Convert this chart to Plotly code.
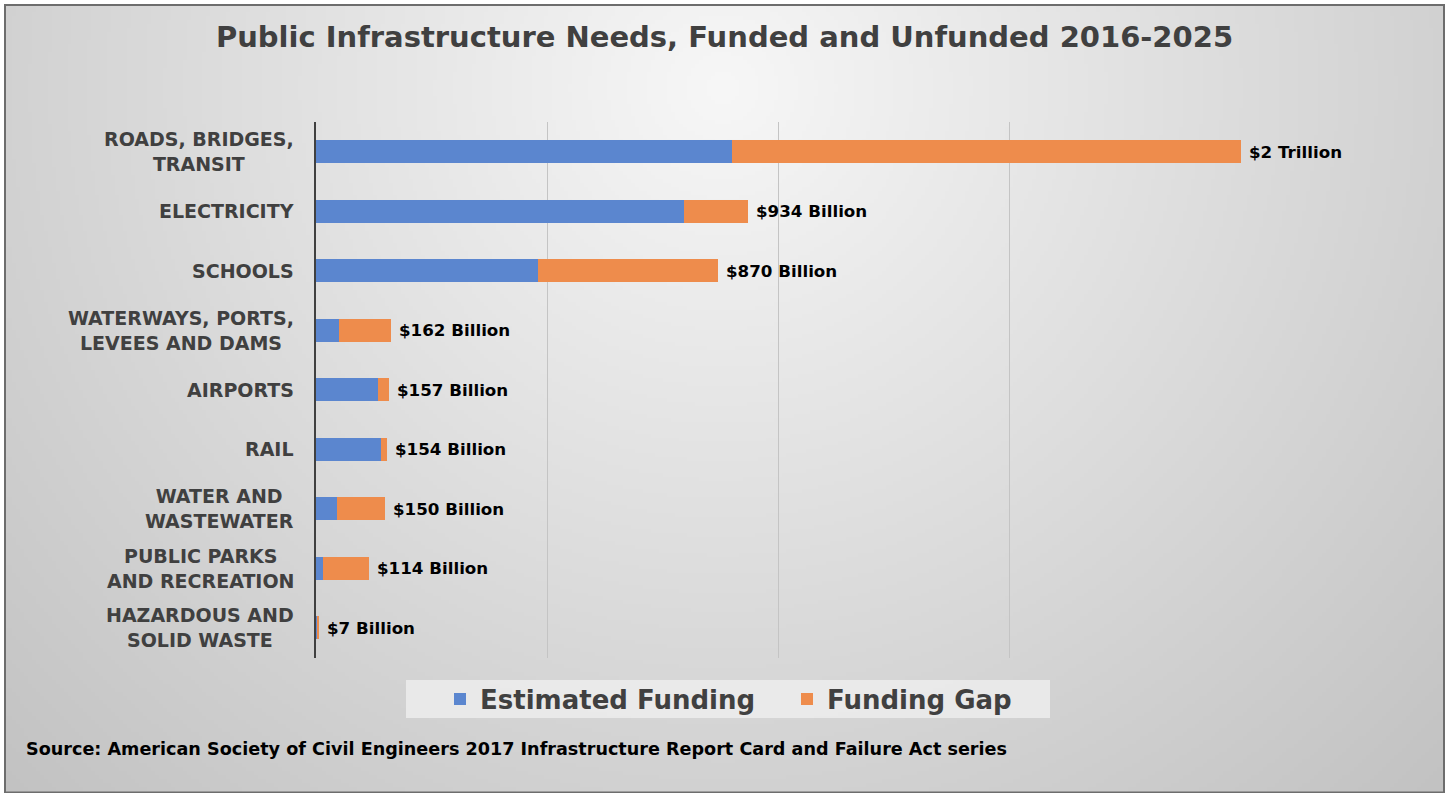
import base64
import struct
import zlib

import numpy as np
import plotly.graph_objects as go

# ---- data (billions of US dollars, 2016-2025) ----
categories = [
    "ROADS, BRIDGES,<br>TRANSIT",
    "ELECTRICITY",
    "SCHOOLS",
    "WATERWAYS, PORTS,<br>LEVEES AND DAMS",
    "AIRPORTS",
    "RAIL",
    "WATER AND<br>WASTEWATER",
    "PUBLIC PARKS<br>AND RECREATION",
    "HAZARDOUS AND<br>SOLID WASTE",
]
total_needs = [2000, 934, 870, 162, 157, 154, 150, 114, 7]
estimated_funding = [900, 795, 480, 50, 133, 140, 45, 16, 4]
funding_gap = [t - f for t, f in zip(total_needs, estimated_funding)]
total_labels = [
    "$2 Trillion", "$934 Billion", "$870 Billion", "$162 Billion",
    "$157 Billion", "$154 Billion", "$150 Billion", "$114 Billion", "$7 Billion",
]
x_ticks = [0, 500, 1000, 1500, 2000]

W, H = 1449, 793
BLUE = "#5B86CF"
ORANGE = "#EE8C4C"
DARK = "#404040"
FONT = "DejaVu Sans"


def grey_gradient_png(w, h):
    """Soft radial grey backdrop, light near the top centre."""
    ys, xs = np.mgrid[0:h, 0:w]
    fx = xs * (W / w)
    fy = ys * (H / h)
    r = np.sqrt(((fx - 720) / 720) ** 2 + ((fy - 80) / 700) ** 2)
    v = np.clip(247 - 37 * r, 190, 247).astype(np.uint8)
    raw = b"".join(b"\x00" + v[i].tobytes() for i in range(h))

    def chunk(tag, data):
        c = tag + data
        return struct.pack(">I", len(data)) + c + struct.pack(">I", zlib.crc32(c) & 0xFFFFFFFF)

    png = b"\x89PNG\r\n\x1a\n"
    png += chunk(b"IHDR", struct.pack(">IIBBBBB", w, h, 8, 0, 0, 0, 0))
    png += chunk(b"IDAT", zlib.compress(raw, 9))
    png += chunk(b"IEND", b"")
    return "data:image/png;base64," + base64.b64encode(png).decode()


fig = go.Figure()
fig.add_trace(go.Bar(
    y=categories, x=estimated_funding, orientation="h",
    name="Estimated Funding", marker=dict(color=BLUE, line=dict(width=0)),
    hoverinfo="x+name",
))
fig.add_trace(go.Bar(
    y=categories, x=funding_gap, orientation="h",
    name="Funding Gap", marker=dict(color=ORANGE, line=dict(width=0)),
    hoverinfo="x+name",
))

annotations = []
# category labels, centred lines, right edge next to the axis
for cat in categories:
    annotations.append(dict(
        x=0, y=cat, xref="x", yref="y", text=cat, showarrow=False,
        xanchor="right", yanchor="middle", align="center", xshift=-20,
        font=dict(family=FONT, size=19, color=DARK, weight="bold"),
    ))
# total labels at the end of each stacked bar
for cat, tot, lab in zip(categories, total_needs, total_labels):
    annotations.append(dict(
        x=tot, y=cat, xref="x", yref="y", text=lab, showarrow=False,
        xanchor="left", yanchor="middle", xshift=6,
        font=dict(family=FONT, size=16.7, color="#000000", weight="bold"),
    ))
# source line
annotations.append(dict(
    x=24 / W, y=1 - 749 / H, xref="paper", yref="paper", showarrow=False,
    xanchor="left", yanchor="middle",
    text="Source: American Society of Civil Engineers 2017 Infrastructure Report Card and Failure Act series",
    font=dict(family=FONT, size=17.6, color="#000000", weight="bold"),
))

shapes = [
    # legend panel
    dict(type="rect", xref="paper", yref="paper",
         x0=406 / W, x1=1050 / W, y0=1 - 718 / H, y1=1 - 680 / H,
         fillcolor="rgba(240,240,240,0.75)", line=dict(width=0), layer="below"),
    # outer frame
    dict(type="rect", xref="paper", yref="paper",
         x0=5 / W, x1=1444 / W, y0=0.5 / H, y1=1 - 5 / H,
         line=dict(color="#6d6d6d", width=2), fillcolor="rgba(0,0,0,0)"),
]

fig.update_layout(
    width=W, height=H,
    margin=dict(l=0, r=0, t=0, b=0),
    barmode="stack", bargap=0.61,
    paper_bgcolor="white", plot_bgcolor="rgba(0,0,0,0)",
    title=dict(
        text="<b>Public Infrastructure Needs, Funded and Unfunded 2016-2025</b>",
        x=0.5, xanchor="center", y=1 - 37 / H, yanchor="middle",
        font=dict(family=FONT, size=29, color=DARK),
    ),
    xaxis=dict(
        domain=[316 / W, 1241 / W], range=[0, 2000], tickvals=x_ticks,
        showticklabels=False, showgrid=True, gridcolor="#c4c4c4", gridwidth=1,
        zeroline=False, showline=False, fixedrange=True,
    ),
    yaxis=dict(
        domain=[1 - 657.5 / H, 1 - 122 / H], range=[len(categories) - 0.5, -0.5],
        showticklabels=False, showgrid=False, showline=True, linecolor=DARK,
        linewidth=2, ticks="", fixedrange=True,
    ),
    legend=dict(
        orientation="h", traceorder="normal",
        x=440 / W, xanchor="left", y=1 - 699 / H, yanchor="middle",
        bgcolor="rgba(0,0,0,0)", entrywidth=302, entrywidthmode="pixels",
        font=dict(family=FONT, size=26, color=DARK, weight="bold"),
        itemclick=False, itemdoubleclick=False,
    ),
    annotations=annotations,
    shapes=shapes,
    images=[dict(
        source=grey_gradient_png(362, 198), xref="paper", yref="paper",
        x=6 / W, y=1 - 6 / H, sizex=(1443 - 6) / W, sizey=(793 - 6) / H,
        xanchor="left", yanchor="top", sizing="stretch", layer="below",
    )],
)

fig.write_html("out.html")
